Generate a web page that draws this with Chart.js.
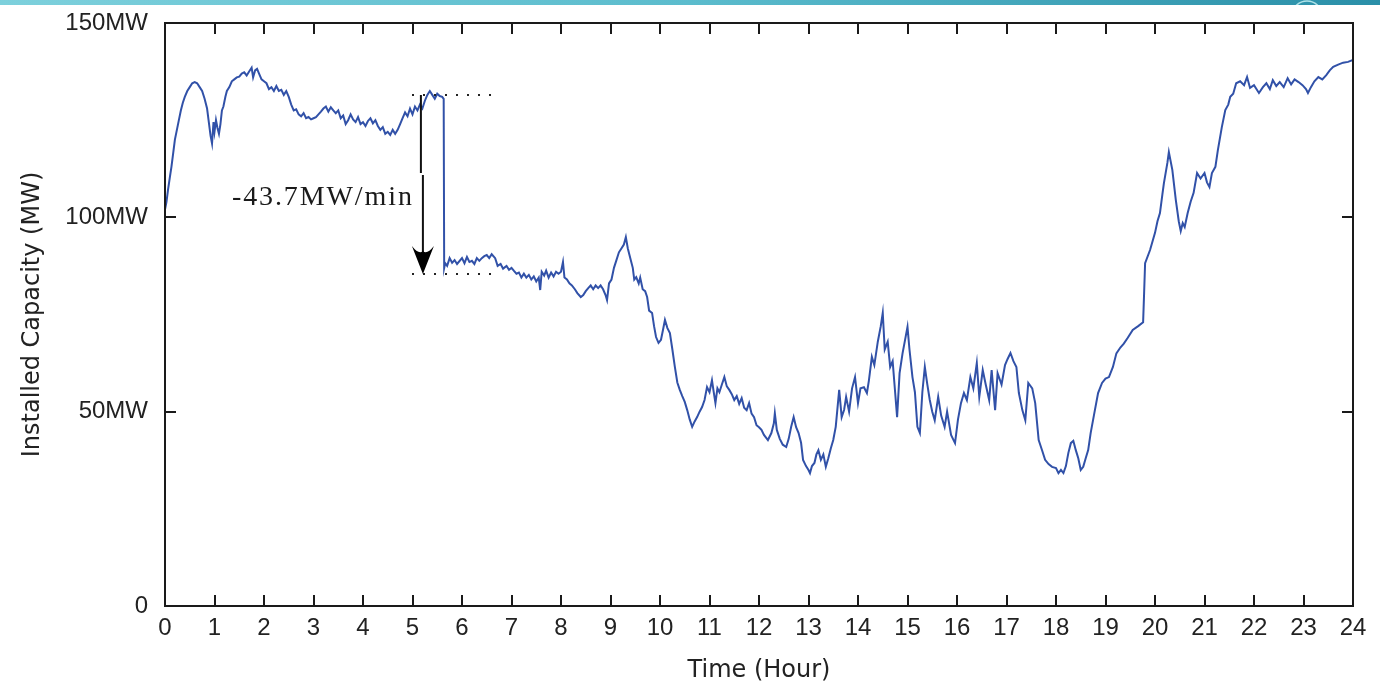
<!DOCTYPE html>
<html><head><meta charset="utf-8">
<script src="https://cdn.jsdelivr.net/npm/chart.js@4.4.1/dist/chart.umd.min.js"></script>
<style>html,body{margin:0;padding:0;background:#fff;overflow:hidden}#wrap{width:1380px;height:688px}</style>
</head><body><div id="wrap"><canvas id="c" width="1380" height="688"></canvas></div>
<script>
// ---- data ----
const hours = [
0.00,0.03,0.06,0.10,0.13,0.17,0.20,0.24,0.28,0.32,0.36,0.40,0.45,0.50,0.55,0.60,0.65,0.70,0.75,0.80,
0.85,0.88,0.92,0.95,0.98,1.00,1.03,1.06,1.09,1.12,1.15,1.18,1.22,1.25,1.30,1.35,1.40,1.45,1.50,1.55,
1.60,1.65,1.70,1.75,1.78,1.82,1.86,1.90,1.95,2.00,2.05,2.10,2.15,2.20,2.25,2.30,2.35,2.40,2.45,2.50,
2.55,2.60,2.65,2.70,2.75,2.80,2.85,2.90,2.95,3.00,3.05,3.10,3.15,3.20,3.25,3.30,3.35,3.40,3.45,3.50,
3.55,3.60,3.65,3.70,3.75,3.80,3.85,3.90,3.95,4.00,4.05,4.10,4.15,4.20,4.25,4.30,4.35,4.40,4.45,4.50,
4.55,4.60,4.65,4.70,4.75,4.80,4.85,4.90,4.95,5.00,5.05,5.10,5.15,5.20,5.25,5.30,5.35,5.40,5.45,5.50,
5.55,5.60,5.63,5.64,5.66,5.70,5.75,5.80,5.85,5.90,6.00,6.05,6.10,6.15,6.20,6.25,6.30,6.35,6.40,6.45,
6.50,6.55,6.60,6.67,6.72,6.78,6.83,6.90,6.95,7.00,7.05,7.10,7.15,7.20,7.25,7.30,7.35,7.40,7.45,7.50,
7.55,7.58,7.61,7.66,7.70,7.75,7.80,7.85,7.90,7.95,8.00,8.04,8.07,8.12,8.17,8.22,8.28,8.33,8.40,8.45,
8.50,8.55,8.60,8.65,8.70,8.75,8.80,8.85,8.90,8.93,8.97,9.02,9.07,9.12,9.17,9.22,9.27,9.31,9.35,9.40,
9.45,9.48,9.52,9.57,9.60,9.65,9.70,9.74,9.78,9.84,9.88,9.92,9.97,10.02,10.06,10.10,10.15,10.20,10.25,10.30,
10.35,10.40,10.45,10.50,10.55,10.60,10.65,10.70,10.75,10.80,10.85,10.90,10.95,11.00,11.05,11.08,11.12,11.16,11.20,11.25,
11.30,11.35,11.40,11.45,11.50,11.55,11.60,11.65,11.70,11.75,11.80,11.85,11.90,11.95,12.00,12.05,12.10,12.18,12.25,12.30,
12.32,12.36,12.42,12.48,12.55,12.60,12.65,12.70,12.75,12.80,12.85,12.89,12.95,13.00,13.03,13.07,13.12,13.16,13.20,13.25,
13.30,13.35,13.40,13.45,13.50,13.55,13.62,13.67,13.72,13.76,13.82,13.88,13.94,14.00,14.05,14.12,14.18,14.22,14.28,14.33,
14.40,14.46,14.50,14.54,14.60,14.65,14.70,14.75,14.79,14.84,14.90,14.95,15.00,15.04,15.10,15.15,15.20,15.25,15.30,15.35,
15.40,15.45,15.50,15.55,15.62,15.68,15.75,15.80,15.88,15.96,16.02,16.08,16.14,16.20,16.27,16.33,16.40,16.45,16.52,16.58,
16.65,16.70,16.77,16.82,16.90,16.97,17.02,17.08,17.14,17.20,17.25,17.32,17.38,17.44,17.52,17.58,17.65,17.72,17.78,17.85,
17.92,18.00,18.05,18.10,18.15,18.20,18.25,18.30,18.35,18.40,18.45,18.50,18.55,18.60,18.65,18.70,18.78,18.85,18.93,19.00,
19.07,19.15,19.22,19.30,19.37,19.45,19.55,19.66,19.76,19.78,19.80,19.90,20.00,20.05,20.10,20.15,20.18,20.25,20.28,20.35,
20.42,20.48,20.52,20.56,20.60,20.66,20.72,20.78,20.85,20.92,21.00,21.05,21.10,21.15,21.22,21.27,21.35,21.42,21.48,21.52,
21.58,21.64,21.72,21.80,21.86,21.92,22.00,22.10,22.18,22.25,22.32,22.38,22.45,22.52,22.60,22.68,22.75,22.82,22.90,22.98,
23.05,23.09,23.15,23.22,23.30,23.38,23.46,23.53,23.60,23.70,23.80,23.90,24.00
];
const capacityMW = [
102,104,107,110.5,113,117,120,122.5,125,127.5,129.5,131,132.5,133.5,134.5,134.8,134.5,133.5,132.5,130.5,
128,125,121,119,124.5,122,125,123,121.5,124,127.5,128.5,131,132.5,133.5,135,135.5,136,136.2,137,
137.3,136.5,137.5,138.5,136,137.8,138.2,137,135.5,135,134.5,133,133.5,132.5,133.8,132.5,132.8,131.5,132.5,131,
129,127.5,127.8,126.5,126,126.8,125.5,125.8,125.2,125.5,125.8,126.5,127.2,128,128.5,127.2,128.3,127.5,126.8,127.5,
125.5,126.2,124,125,126.5,125.2,124.5,125.8,124,124.5,123.5,124.8,125.5,124.2,125,123.5,122.5,123.2,121.5,122,
121.2,122.5,121.5,122.5,124,125.5,127,126,128,126.5,128.5,127.5,129,128,130,131.5,132.5,131.5,130.5,131.8,
131.2,131,130.5,87,88.2,87.5,89.5,88.3,89,88,89.5,88.2,89.8,88.5,88.8,88,89.5,88.8,89.5,90,
90.3,89.5,90.5,89.5,87.5,88,86.8,87.5,86.5,87,86.2,85.5,85.8,84.5,85.5,84.5,85.2,84,84.8,83.5,
84.5,81.3,86,85,86.3,84.5,85.8,84.8,86,85.5,86,88.5,84.5,84,83,82.5,81.5,80.5,79.5,80,
81,81.8,82.5,81.5,82.5,81.8,82.5,81.5,80,78.7,83,84,87,89,91,92,93,94.9,92,89.5,
87,84,84.6,83,84.5,81.5,81,79.5,76,75.4,72,69.2,67.7,68.5,71,73.6,71.5,70.2,66,61.5,
57.5,55.6,54,52.5,50.4,48,46.1,47.5,48.6,50,51.2,53,56.3,55,58.1,55.5,52.2,56,55,57,
58.9,56.5,55.6,54.5,53,54,52,53.5,51,50.4,52.2,49.5,48.6,46.5,46,45.3,44,42.7,44.5,47,
49.6,45.3,43,41.5,40.9,43,46.1,48.6,46,44.5,42,37.6,36,35,34.2,36,36.8,39,40.1,37.6,
39,35.8,38,40.5,42.7,46.1,55.6,48.6,50.5,53.8,50,56,58.9,52.2,56,56.3,54.8,58,64.1,62,
68,72,75.4,66,68,61.5,63,55,48.6,59.9,65,68.4,71.8,66,58.9,55,46.1,44.5,55,61.5,
57,53,50,47.8,53.8,49,46.1,50,44,41.9,48,52.2,54.8,53,58.9,56,62.5,53.8,60.7,57,
53,60.7,50.4,59.9,57,62,63.5,65.1,63,61.5,54.8,50.4,47.8,57.4,56,52.2,42.7,40,37.6,36.5,
35.8,35.5,34.2,35,34.2,36,39.4,41.9,42.5,40.1,38,35,35.8,38,40.1,44.5,50,54.8,57.4,58.5,
58.9,61.5,65,66.5,67.5,69,71,72,73,80.5,88.2,91.6,96,99,101.1,106,108.8,114,116.8,112.2,
104.5,99,96.5,98.5,97.5,101.1,104,106.3,111.4,110,111.4,109,107.8,111.4,113,117.3,123.2,127.6,129,131,
131.8,134.5,135,134,136.1,133.3,134,132,133.5,134.5,133,135.3,133.8,134.8,133.5,135.8,134.2,135.5,134.8,134,
133,132,133.5,135,136.1,135.5,136.6,137.8,138.7,139.3,139.8,140,140.5
];
const xTickValues = [0,1,2,3,4,5,6,7,8,9,10,11,12,13,14,15,16,17,18,19,20,21,22,23,24];
const yTickValues = [0,50,100,150];
const yTickLabels = ['0','50MW','100MW','150MW'];
const xTitle = 'Time (Hour)';
const yTitle = 'Installed Capacity (MW)';
// annotation of the ramp
const rampLabel = '-43.7MW/min';
const rampHour = 5.19;
const rampTopMW = 131.5;
const rampBottomMW = 85.4;
const rampBreakMW = 111.4;
const dotFromHour = 4.99;
const dotToHour = 6.62;
const labelMW = 105.5;

const points = hours.map((h,i)=>({x:h,y:capacityMW[i]}));

const framePlugin = {
  id:'frame',
  beforeDraw(chart){
    const ctx = chart.ctx;
    ctx.save();
    ctx.fillStyle = '#fff';
    ctx.fillRect(0,0,chart.width,chart.height);
    const g = ctx.createLinearGradient(0,0,chart.width,0);
    g.addColorStop(0,'#7dd0dc');
    g.addColorStop(0.5,'#5bbccd');
    g.addColorStop(1,'#2a8fa8');
    ctx.fillStyle = g;
    ctx.fillRect(0,0,chart.width,5);
    ctx.beginPath(); ctx.rect(0,0,chart.width,5); ctx.clip();
    ctx.strokeStyle = 'rgba(190,235,240,0.9)';
    ctx.lineWidth = 1.5;
    ctx.beginPath(); ctx.arc(1307,16,15,0,Math.PI*2); ctx.stroke();
    ctx.restore();
  },
  afterDatasetsDraw(chart){
    const ctx = chart.ctx, a = chart.chartArea;
    const xs = chart.scales.x, ys = chart.scales.y;
    ctx.save();
    ctx.strokeStyle = '#1a1a1a';
    ctx.lineWidth = 2;
    ctx.strokeRect(a.left, a.top, a.right-a.left, a.bottom-a.top);
    const tl = 11;
    ctx.beginPath();
    xTickValues.forEach(v=>{
      const px = Math.round(xs.getPixelForValue(v));
      ctx.moveTo(px,a.bottom); ctx.lineTo(px,a.bottom-tl);
      ctx.moveTo(px,a.top); ctx.lineTo(px,a.top+tl);
    });
    yTickValues.forEach(v=>{
      const py = Math.round(ys.getPixelForValue(v));
      ctx.moveTo(a.left,py); ctx.lineTo(a.left+tl,py);
      ctx.moveTo(a.right,py); ctx.lineTo(a.right-tl,py);
    });
    ctx.stroke();

    // dotted guide lines
    ctx.strokeStyle = '#222';
    ctx.lineWidth = 2;
    ctx.setLineDash([2,9]);
    [rampTopMW, rampBottomMW].forEach(v=>{
      const py = ys.getPixelForValue(v);
      ctx.beginPath();
      ctx.moveTo(xs.getPixelForValue(dotFromHour), py);
      ctx.lineTo(xs.getPixelForValue(dotToHour), py);
      ctx.stroke();
    });
    ctx.setLineDash([]);
    // arrow
    const ax = xs.getPixelForValue(rampHour);
    const yTop = ys.getPixelForValue(rampTopMW);
    const yBreak = ys.getPixelForValue(rampBreakMW);
    const yBot = ys.getPixelForValue(rampBottomMW);
    ctx.strokeStyle = '#111';
    ctx.lineWidth = 2;
    ctx.beginPath();
    ctx.moveTo(ax-1, yTop); ctx.lineTo(ax-1, yBreak);
    ctx.moveTo(ax+1, yBreak+2); ctx.lineTo(ax+1, yBot-12);
    ctx.stroke();
    ctx.fillStyle = '#000';
    ctx.beginPath();
    ctx.moveTo(ax+1, yBot);
    ctx.lineTo(ax-10, yBot-28);
    ctx.quadraticCurveTo(ax-3, yBot-19, ax+1, yBot-23);
    ctx.quadraticCurveTo(ax+5, yBot-19, ax+12, yBot-28);
    ctx.closePath();
    ctx.fill();
    // ramp label with letter spacing
    ctx.font = '28px "Liberation Serif", "Times New Roman", serif';
    ctx.fillStyle = '#1a1a1a';
    ctx.textBaseline = 'alphabetic';
    const chars = rampLabel.split('');
    const widths = chars.map(c=>ctx.measureText(c).width);
    const total = widths.reduce((s,w)=>s+w,0);
    const target = 180;
    const sp = Math.max(0,(target-total)/(chars.length-1));
    let x = ax - 10 - (total + sp*(chars.length-1));
    const by = ys.getPixelForValue(labelMW) + 9;
    chars.forEach((c,i)=>{ ctx.fillText(c, x, by); x += widths[i]+sp; });
    ctx.restore();
  }
};

new Chart(document.getElementById('c'), {
  type:'line',
  data:{ datasets:[{
    data: points,
    borderColor:'#3151a8',
    borderWidth:2,
    pointRadius:0,
    tension:0,
    fill:false
  }]},
  options:{
    responsive:false,
    animation:false,
    devicePixelRatio:1,
    layout:{padding:{left:0,right:27,top:23,bottom:0}},
    plugins:{legend:{display:false},tooltip:{enabled:false}},
    scales:{
      x:{
        type:'linear', min:0, max:24,
        afterFit(s){ s.height = 82; s.paddingLeft = 0; s.paddingRight = 0; },
        afterBuildTicks(s){ s.ticks = xTickValues.map(v=>({value:v})); },
        grid:{display:false, drawTicks:false},
        border:{display:false},
        ticks:{ padding:8, color:'#222', maxRotation:0, autoSkip:false,
          font:{family:'"Liberation Sans", Arial, sans-serif', size:24},
          callback:(v)=>String(v) },
        title:{display:true, text:xTitle, color:'#222', padding:{top:0,bottom:3},
          font:{family:'"DejaVu Sans", sans-serif', size:24}}
      },
      y:{
        type:'linear', min:0, max:150,
        afterFit(s){ s.width = 165; s.paddingTop = 0; s.paddingBottom = 0; },
        afterBuildTicks(s){ s.ticks = yTickValues.map(v=>({value:v})); },
        grid:{display:false, drawTicks:false},
        border:{display:false},
        ticks:{ padding:17, color:'#222', autoSkip:false,
          font:{family:'"Liberation Sans", Arial, sans-serif', size:24},
          callback:(v)=>yTickLabels[yTickValues.indexOf(v)] },
        title:{display:true, text:yTitle, color:'#222', padding:{top:18,bottom:0},
          font:{family:'"DejaVu Sans", sans-serif', size:24}}
      }
    }
  },
  plugins:[framePlugin]
});
</script></body></html>
